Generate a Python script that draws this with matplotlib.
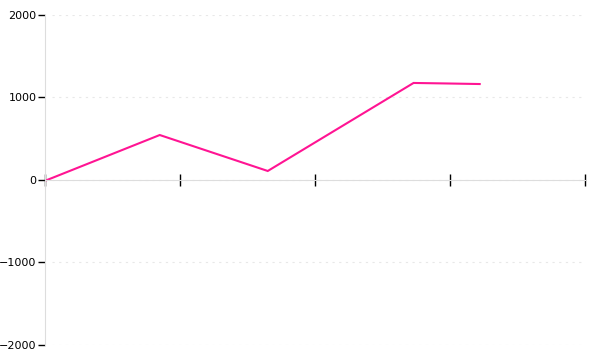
import numpy as np
import matplotlib
matplotlib.use("Agg")
import matplotlib.pyplot as plt

# 数据
x_vals = [0, 0.85, 1.65, 2.73, 2.97, 3.22]
y_vals = [-10, 545, 109, 1176, 1170, 1163]
y_ticks = [-2000, -1000, 0, 1000, 2000]
x_ticks = [0, 1, 2, 3, 4]

fig = plt.figure(figsize=(6, 3.6), dpi=100)
ax = fig.add_axes([0.075, 0.0417, 0.9, 0.9167])

ax.plot(x_vals, y_vals, color='#ff1493', linewidth=1.5, solid_joinstyle='miter')

ax.set_xlim(0, 4)
ax.set_ylim(-2000, 2000)
ax.set_yticks(y_ticks)
ax.set_xticks(x_ticks)
ax.set_xticklabels([])

# 网格
for yt in y_ticks:
    ax.axhline(yt, xmin=0.013, color='#e8e8e8', linewidth=0.8, linestyle=(0, (2, 4)), zorder=0)

ax.spines['top'].set_visible(False)
ax.spines['right'].set_visible(False)
ax.spines['left'].set_color('#dddddd')
ax.spines['bottom'].set_color('#dddddd')
ax.spines['bottom'].set_position(('data', 0))

ax.tick_params(axis='y', length=5, width=1, color='black', labelsize=8, pad=1)
ax.tick_params(axis='x', direction='inout', length=9, width=1, color='black')

plt.savefig('out.png', dpi=100)
